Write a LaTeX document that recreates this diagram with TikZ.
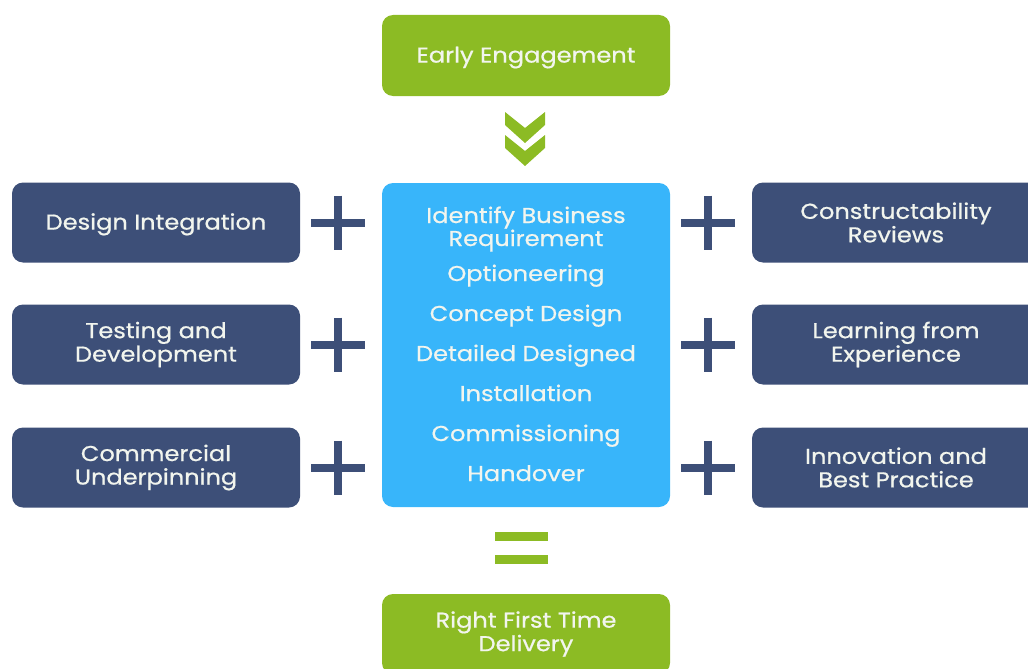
\documentclass[tikz,border=0pt]{standalone}
\usepackage{fontspec}
\setmainfont{Poppins}[FakeStretch=1.12, FakeBold=0.7]
\usetikzlibrary{positioning}
\definecolor{leafgreen}{HTML}{8CBB24}
\definecolor{skyblue}{HTML}{38B5FA}
\definecolor{navyblue}{HTML}{3D4F78}
\definecolor{paletext}{HTML}{F2F5EE}
\tikzset{
  box/.style={rounded corners=11pt, minimum width=288pt, minimum height=80pt, inner sep=0pt,
    text=paletext, align=center, font=\fontsize{21.5}{23.5}\selectfont,
    execute at begin node={\rule{0pt}{20pt}}},
  greenbox/.style={box, fill=leafgreen},
  navybox/.style={box, fill=navyblue},
  corebox/.style={box, fill=skyblue, minimum height=324pt},
  coretext/.style={text=paletext, anchor=base, inner sep=0pt, font=\fontsize{21.5}{23.5}\selectfont},
  plussign/.style={draw=navyblue, line width=8pt},
}
\begin{document}
\begin{tikzpicture}[x=1pt,y=-1pt]
\useasboundingbox (0,0) rectangle (1028,669);
\clip (0,0) rectangle (1028,669);
\node (early)[greenbox, minimum height=81pt] at (526,55.5){Early Engagement};
\node (right)[greenbox] at (526,634){Right First Time\\Delivery};
\node (core)[corebox] at (526,345){};
\node (design)[navybox] at (156,222.5){Design Integration};
\node (testing)[navybox] at (156,344.5){Testing and\\Development};
\node (commercial)[navybox] at (156,467.5){Commercial\\Underpinning};
\node (construct)[navybox] at (896,222.5){Constructability\\Reviews};
\node (learning)[navybox] at (896,344.5){Learning from\\Experience};
\node (innovation)[navybox] at (896,467.5){Innovation and\\Best Practice};
% stages inside the core box
\foreach \name/\txt/\y in {identify/Identify Business/223, requirement/Requirement/246,
  option/Optioneering/281, concept/Concept Design/321,
  detailed/Detailed Designed/361, install/Installation/401,
  commission/Commissioning/441, handover/Handover/481}
  \node (\name)[coretext] at (526,\y){\txt};
% chevrons
\foreach \dy in {0,23}
  \fill[leafgreen] (505,112+\dy) -- (525,128+\dy) -- (545,112+\dy) -- (545,125+\dy)
    -- (525,143+\dy) -- (505,125+\dy) -- cycle;
% plus signs
\foreach \px in {338,708}
  \foreach \py in {222.5,344.5,467.5}{
    \draw[plussign] (\px-27,\py) -- (\px+27,\py);
    \draw[plussign] (\px,\py-27) -- (\px,\py+27);
  }
% equals
\fill[leafgreen] (495,532) rectangle (548,541);
\fill[leafgreen] (495,555) rectangle (548,564);
\end{tikzpicture}
\end{document}
